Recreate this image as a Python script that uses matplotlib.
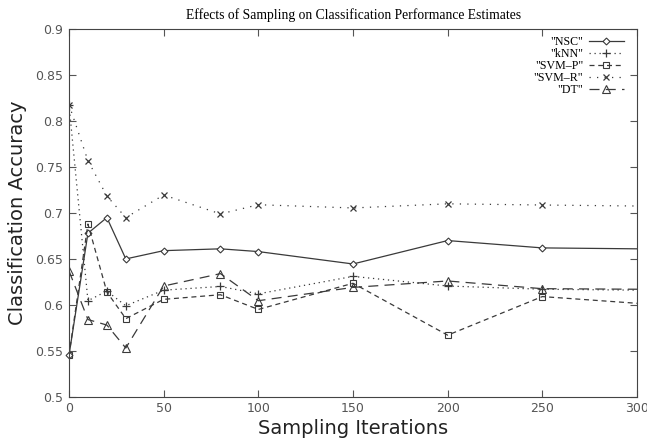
import numpy as np
import matplotlib
matplotlib.use('Agg')
import matplotlib.pyplot as plt

# Sampling iterations (x) and accuracy per classifier
iterations = [0, 10, 20, 30, 50, 80, 100, 150, 200, 250, 300]
nsc = [0.545, 0.678, 0.695, 0.650, 0.659, 0.661, 0.658, 0.6445, 0.670, 0.662, 0.661]
knn = [0.818, 0.6045, 0.615, 0.599, 0.616, 0.620, 0.612, 0.631, 0.6205, 0.617, 0.616]
svm_p = [0.545, 0.688, 0.614, 0.585, 0.606, 0.611, 0.595, 0.6235, 0.567, 0.609, 0.6017]
svm_r = [0.818, 0.757, 0.7185, 0.695, 0.7196, 0.699, 0.709, 0.7055, 0.710, 0.7087, 0.7076]
dt = [0.637, 0.584, 0.578, 0.553, 0.6205, 0.634, 0.6045, 0.619, 0.626, 0.6176, 0.617]

x_ticks = [0, 50, 100, 150, 200, 250, 300]
y_ticks = [0.5, 0.55, 0.6, 0.65, 0.7, 0.75, 0.8, 0.85, 0.9]
y_tick_labels = ['0.5', '0.55', '0.6', '0.65', '0.7', '0.75', '0.8', '0.85', '0.9']

line_col = '#3a3a3a'
# last point sits on the right border, no marker drawn there
mk = slice(0, len(iterations) - 1)

fig = plt.figure(figsize=(6.47, 4.46), dpi=100)
ax = fig.add_axes([69 / 647, 1 - 396.7 / 446, 568 / 647, 367.4 / 446])

ax.plot(iterations, nsc, color=line_col, lw=0.9, ls='-', marker='D', ms=3.5, markevery=mk,
        mfc='white', mec=line_col, mew=0.8, label='"NSC"', clip_on=False)
ax.plot(iterations, knn, color=line_col, lw=0.9, ls=(0, (1, 3)), marker='+', ms=6, markevery=mk,
        mec=line_col, mew=0.9, label='"kNN"')
ax.plot(iterations, svm_p, color=line_col, lw=0.9, ls=(0, (4, 3)), marker='s', ms=5, markevery=mk,
        mfc='none', mec=line_col, mew=0.8, label='"SVM\u2013P"')
ax.plot(iterations, svm_r, color=line_col, lw=0.9, ls=(0, (1, 5)), marker='x', ms=5, markevery=mk,
        mec=line_col, mew=0.9, label='"SVM\u2013R"')
ax.plot(iterations, dt, color=line_col, lw=0.9, ls=(0, (8, 5)), marker='^', ms=6, markevery=mk,
        mfc='none', mec=line_col, mew=0.8, label='"DT"')

ax.set_xlim(0, 300)
ax.set_ylim(0.5, 0.9)
ax.set_xticks(x_ticks)
ax.set_yticks(y_ticks)
ax.set_yticklabels(y_tick_labels)
ax.tick_params(direction='in', length=5, width=0.8, top=True, right=True,
               labelsize=9, labelcolor='#555555', color='#555555', pad=4)
for s in ax.spines.values():
    s.set_color('#444444')
    s.set_linewidth(0.8)

ax.set_xlabel('Sampling Iterations', fontsize=14, color='#222222', labelpad=3)
ax.set_ylabel('Classification Accuracy', fontsize=14, color='#222222', labelpad=6)
fig.text(0.546, 0.966, 'Effects of Sampling on Classification Performance Estimates',
         ha='center', va='center', family='Liberation Serif', fontsize=9.8)

leg = ax.legend(loc='upper right', frameon=False, markerfirst=False,
                prop={'family': 'Liberation Serif', 'size': 8.6},
                handlelength=2.9, handletextpad=0.5, labelspacing=0.0,
                borderaxespad=0.0, bbox_to_anchor=(0.985, 0.995))

fig.savefig('out.png', dpi=100)
